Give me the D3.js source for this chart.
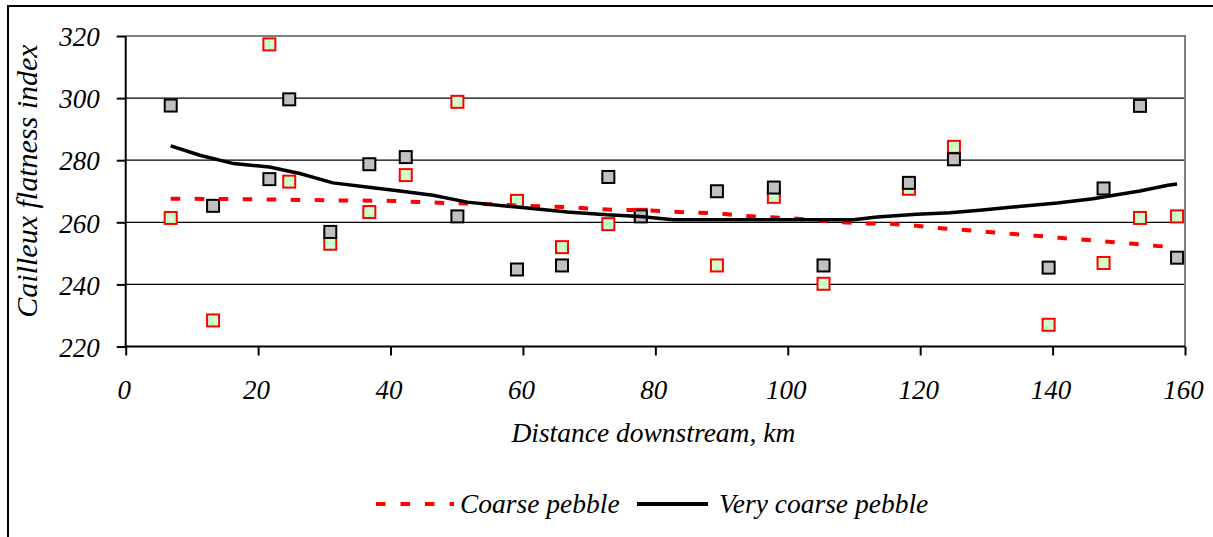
<!DOCTYPE html>
<html><head><meta charset="utf-8">
<script src="https://cdn.jsdelivr.net/npm/d3@7"></script>
<style>body{margin:0;background:#fff;} text{font-family:"Liberation Serif",Tinos,"Times New Roman",Times,"DejaVu Serif",serif !important;font-style:italic;fill:#000;}</style>
</head><body><svg id="c" width="1213" height="537"></svg>
<script>
// Observed samples
const coarseX = [6.8, 13.2, 21.7, 24.7, 30.9, 36.8, 42.3, 50.1, 59.1, 65.9, 72.9, 77.8, 89.3, 97.9, 105.4, 118.3, 125.1, 139.4, 147.7, 153.2, 158.8];
const coarseY = [261.4, 228.4, 317.3, 273.1, 253.1, 263.3, 275.2, 298.8, 266.9, 252.0, 259.4, 262.4, 246.1, 268.2, 240.2, 270.8, 284.3, 227.0, 246.9, 261.4, 261.9];
const veryX = [6.8, 13.2, 21.7, 24.7, 30.9, 36.8, 42.3, 50.1, 59.1, 65.9, 72.9, 77.8, 89.3, 97.9, 105.4, 118.3, 125.1, 139.4, 147.7, 153.2, 158.8];
const veryY = [297.6, 265.3, 273.9, 299.6, 256.9, 278.7, 281.0, 261.9, 244.8, 246.1, 274.6, 261.9, 270.0, 271.2, 246.1, 272.7, 280.3, 245.4, 270.9, 297.5, 248.6];
// Trend lines
const coarseTrendX = [6.8, 20, 30, 40.4, 44.5, 48.5, 52, 56.1, 59.1, 63, 66.7, 70.9, 74.2, 78.1, 81.8, 85.2, 88.7, 92.8, 96.3, 99.9, 103.5, 107.4, 111.4, 115, 118.9, 122.5, 126.3, 129.8, 133.6, 137.4, 141, 144.8, 148.4, 152.2, 155.8, 158.8];
const coarseTrendY = [267.6, 267.4, 267.1, 266.9, 266.5, 266.2, 266.0, 265.8, 265.4, 265.1, 264.9, 264.3, 264.0, 263.9, 263.5, 263.1, 263.0, 262.2, 261.7, 261.4, 260.8, 260.1, 259.6, 259.6, 259.0, 258.2, 257.6, 257.0, 256.3, 255.7, 255.0, 254.4, 253.7, 253.1, 252.4, 252.0];
const veryTrendX = [6.8, 11.2, 16.3, 21.7, 26.3, 31.3, 36.4, 41.4, 46.4, 51.6, 59.1, 66.7, 72.7, 77.7, 82.7, 101.9, 109.9, 113.5, 119.5, 124.5, 129, 134, 140.7, 146.1, 149.7, 153.2, 157.4, 158.8];
const veryTrendY = [284.6, 281.6, 278.9, 277.8, 275.7, 272.7, 271.4, 270.1, 268.7, 266.5, 264.9, 263.3, 262.4, 261.9, 260.8, 260.8, 260.8, 261.7, 262.6, 263.1, 263.9, 264.9, 266.2, 267.6, 268.9, 270.1, 271.9, 272.3];
const xTicks = [0, 20, 40, 60, 80, 100, 120, 140, 160];
const yTicks = [220, 240, 260, 280, 300, 320];
const seriesNames = ["Coarse pebble", "Very coarse pebble"];

const svg = d3.select("#c");
const L = 125.7, R = 1185, T = 36, B = 346.5;
const x = d3.scaleLinear().domain([0, 160]).range([L, R]);
const y = d3.scaleLinear().domain([220, 320]).range([B, T]);

// outer frame
svg.append("rect").attr("x", 8).attr("y", 6).attr("width", 1300).attr("height", 700)
  .attr("fill", "none").attr("stroke", "#000").attr("stroke-width", 2);

// grid
svg.append("g").selectAll("line").data(yTicks.filter(d => d > 220 && d < 320)).join("line")
  .attr("x1", L).attr("x2", R).attr("y1", d => y(d)).attr("y2", d => y(d))
  .attr("stroke", "#000").attr("stroke-width", 1.3);
// top & right border (gray)
svg.append("path").attr("d", `M${L},${y(320)}H${R}V${B}`).attr("fill", "none")
  .attr("stroke", "#808080").attr("stroke-width", 2);

// axes
const yAxis = d3.axisLeft(y).tickValues(yTicks).tickSize(9).tickPadding(17);
const gy = svg.append("g").attr("transform", `translate(${L},0)`).call(yAxis);
const xAxis = d3.axisBottom(x).tickValues(xTicks).tickSize(9).tickPadding(24);
const gx = svg.append("g").attr("transform", `translate(0,${B})`).call(xAxis);
[gx, gy].forEach(g => {
  g.attr("font-family", null);
  g.select(".domain").attr("stroke", "#000").attr("stroke-width", 2);
  g.selectAll(".tick line").attr("stroke", "#000").attr("stroke-width", 2);
  g.selectAll(".tick text").attr("font-size", 27).attr("fill", "#000");
});
gx.selectAll(".tick text").attr("dx", -2);
gy.selectAll(".tick text").attr("dy", "0.36em");
gy.select(".domain").attr("d", `M0,${B}V${T}`);
gx.select(".domain").attr("d", `M${L},0H${R}`);

// markers
const sz = 12;
svg.append("g").selectAll("rect").data(coarseX.map((d, i) => [d, coarseY[i]])).join("rect")
  .attr("x", d => x(d[0]) - sz / 2).attr("y", d => y(d[1]) - sz / 2).attr("width", sz).attr("height", sz)
  .attr("fill", "#CCFFCC").attr("stroke", "#FF0000").attr("stroke-width", 2);
svg.append("g").selectAll("rect").data(veryX.map((d, i) => [d, veryY[i]])).join("rect")
  .attr("x", d => x(d[0]) - sz / 2).attr("y", d => y(d[1]) - sz / 2).attr("width", sz).attr("height", sz)
  .attr("fill", "#C0C0C0").attr("stroke", "#000").attr("stroke-width", 2);

// trend lines
const line = d3.line().x(d => x(d[0])).y(d => y(d[1]));
svg.append("path").attr("d", line(coarseTrendX.map((d, i) => [d, coarseTrendY[i]])))
  .attr("fill", "none").attr("stroke", "#FF0000").attr("stroke-width", 4).attr("stroke-dasharray", "9.5,14.5");
svg.append("path").attr("d", line(veryTrendX.map((d, i) => [d, veryTrendY[i]])))
  .attr("fill", "none").attr("stroke", "#000").attr("stroke-width", 3.5);

// axis titles
svg.append("text").attr("x", (L + R) / 2 - 2).attr("y", 442).attr("text-anchor", "middle")
  .attr("font-size", 27.5).text("Distance downstream, km");
svg.append("text").attr("transform", "translate(37,181) rotate(-90)").attr("text-anchor", "middle")
  .attr("font-size", 30).text("Cailleux flatness index");

// legend
const lg = svg.append("g");
lg.append("line").attr("x1", 376).attr("x2", 454).attr("y1", 504).attr("y2", 504)
  .attr("stroke", "#FF0000").attr("stroke-width", 4).attr("stroke-dasharray", "9.5,15");
lg.append("text").attr("x", 460).attr("y", 513).attr("font-size", 27.5).text(seriesNames[0]);
lg.append("line").attr("x1", 637).attr("x2", 708).attr("y1", 504).attr("y2", 504)
  .attr("stroke", "#000").attr("stroke-width", 4);
lg.append("text").attr("x", 719).attr("y", 513).attr("font-size", 27.5).text(seriesNames[1]);
</script></body></html>
